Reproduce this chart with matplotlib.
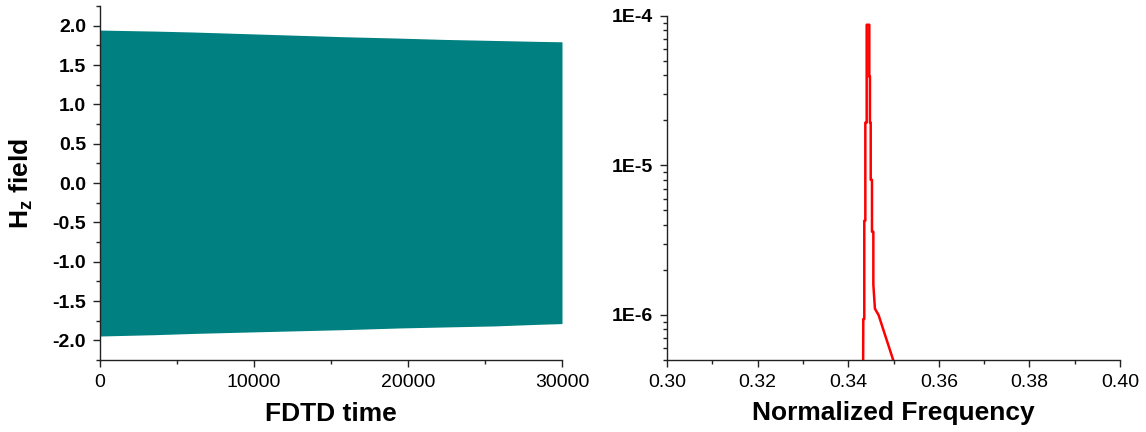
import matplotlib
matplotlib.use("Agg")
import matplotlib.pyplot as plt
from matplotlib.ticker import (MultipleLocator, LogLocator, FixedLocator, FixedFormatter,
                               FormatStrFormatter, NullFormatter)

plt.rcParams["font.family"] = ["Liberation Sans", "DejaVu Sans"]
plt.rcParams["mathtext.fontset"] = "custom"
plt.rcParams["mathtext.rm"] = "Liberation Sans"
plt.rcParams["mathtext.bf"] = "Liberation Sans:bold"

# Time-domain H_z field: upper and lower envelopes of the ringing signal
time_steps = [0, 3600, 6100, 9700, 15900, 19400, 22400, 25600, 28500, 30000]
hz_upper = [1.944, 1.931, 1.919, 1.897, 1.859, 1.842, 1.825, 1.812, 1.800, 1.795]
hz_lower = [-1.945, -1.928, -1.912, -1.894, -1.864, -1.843, -1.830, -1.817, -1.796, -1.787]

# Spectrum of the field (log scale)
freq = [0.34330, 0.34333, 0.34355, 0.34355, 0.34378, 0.34378, 0.34408, 0.34408,
        0.34466, 0.34466, 0.34480, 0.34480, 0.34497, 0.34497, 0.34525, 0.34525,
        0.34555, 0.34555, 0.34590, 0.34670, 0.34993]
spectrum = [4.9e-7, 9.4e-7, 9.4e-7, 4.27e-6, 4.27e-6, 1.93e-5, 1.93e-5, 8.7e-5,
            8.7e-5, 3.92e-5, 3.92e-5, 1.93e-5, 1.93e-5, 8.0e-6, 8.0e-6, 3.6e-6,
            3.6e-6, 1.6e-6, 1.1e-6, 1.0e-6, 5.0e-7]

fig = plt.figure(figsize=(11.46, 4.32), dpi=100)

ax1 = fig.add_axes([100 / 1146, 72 / 432, 462 / 1146, 354 / 432])
ax2 = fig.add_axes([667 / 1146, 72 / 432, 453 / 1146, 344.3 / 432])

teal = "#008080"
ax1.fill_between(time_steps, hz_lower, hz_upper, color=teal, linewidth=0)
ax1.set_xlim(0, 30000)
ax1.set_ylim(-2.25, 2.25)
ax1.xaxis.set_major_locator(MultipleLocator(10000))
ax1.xaxis.set_minor_locator(MultipleLocator(5000))
ax1.yaxis.set_major_locator(MultipleLocator(0.5))
ax1.yaxis.set_minor_locator(MultipleLocator(0.25))
ax1.yaxis.set_major_formatter(FormatStrFormatter("%.1f"))
ax1.set_xlabel("FDTD time", fontsize=19, fontweight="bold")
ax1.set_ylabel(r"H$_{\mathbf{z}}$ field", fontsize=19, fontweight="bold")
ax1.xaxis.set_label_coords(0.5, -0.12)
ax1.yaxis.set_label_coords(-0.14, 0.5)

ax2.plot(freq, spectrum, color="#ff0000", linewidth=1.8)
ax2.set_yscale("log")
ax2.set_xlim(0.30, 0.40)
ax2.set_ylim(5e-7, 1e-4)
ax2.xaxis.set_major_locator(MultipleLocator(0.02))
ax2.xaxis.set_minor_locator(MultipleLocator(0.01))
ax2.xaxis.set_major_formatter(FormatStrFormatter("%.2f"))
ax2.yaxis.set_major_locator(FixedLocator([1e-6, 1e-5, 1e-4]))
ax2.yaxis.set_major_formatter(FixedFormatter(["1E-6", "1E-5", "1E-4"]))
ax2.yaxis.set_minor_locator(LogLocator(base=10, subs=range(2, 10)))
ax2.yaxis.set_minor_formatter(NullFormatter())
ax2.set_xlabel("Normalized Frequency", fontsize=19, fontweight="bold")
ax2.xaxis.set_label_coords(0.5, -0.12)

for ax in (ax1, ax2):
    ax.spines["top"].set_visible(False)
    ax.spines["right"].set_visible(False)
    for s in ("left", "bottom"):
        ax.spines[s].set_linewidth(1.0)
        ax.spines[s].set_color("#222222")
    ax.tick_params(which="major", direction="out", length=5, width=1.0,
                   labelsize=14, pad=5, color="#222222")
    ax.tick_params(which="minor", direction="out", length=3, width=1.0, color="#222222")

for lab in ax1.get_yticklabels() + ax2.get_yticklabels():
    lab.set_fontweight("bold")

fig.savefig("out.png", dpi=100)
